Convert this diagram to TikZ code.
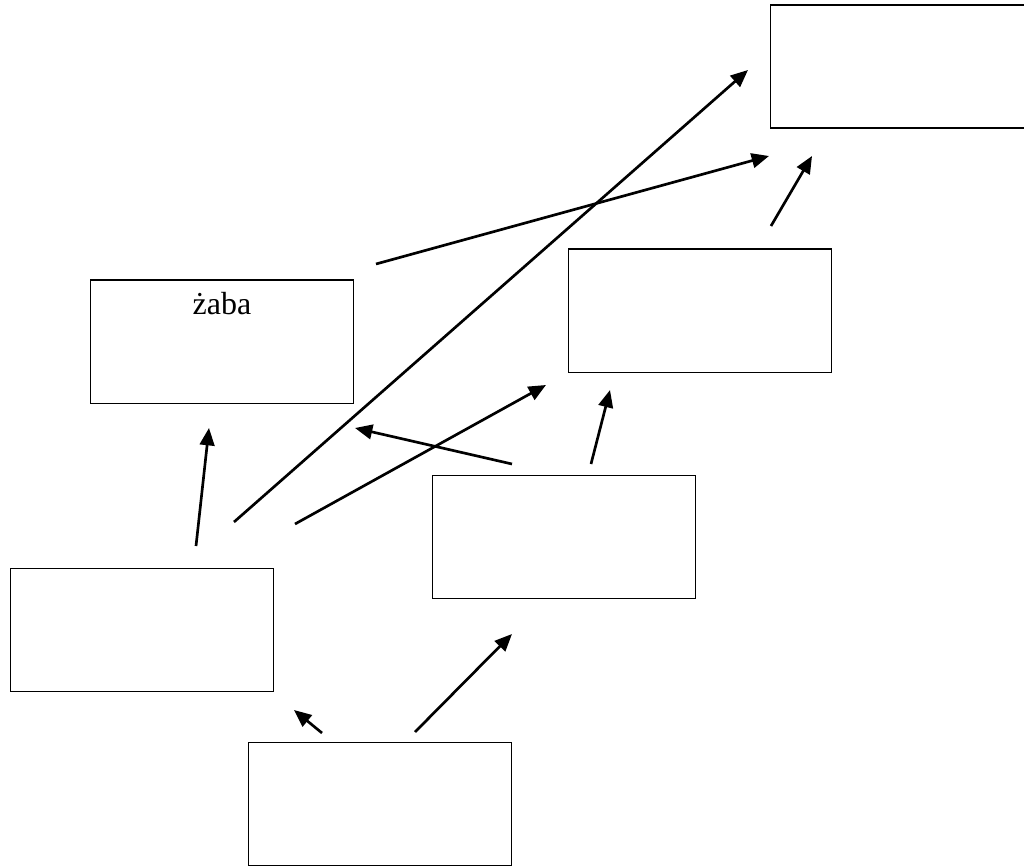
\documentclass[tikz,border=0pt]{standalone}
\usepackage{fontspec}
\setmainfont{Liberation Serif}
\usetikzlibrary{arrows.meta}
\begin{document}
\begin{tikzpicture}[x=0.75pt,y=-0.75pt,
  box/.style={draw,line width=1.3pt,minimum width=197.25pt,minimum height=92.25pt,inner sep=0pt,anchor=north west},
  arr/.style={line width=2pt,-{Triangle[length=13pt,width=11pt]}}]
\useasboundingbox (0,0) rectangle (1024,866);
\node[box] (A) at (769.5,4.5) {};
\node[box] (B) at (89.5,279.5) {};
\node[box] (C) at (567.5,248.5) {};
\node[box] (D) at (431.5,474.5) {};
\node[box] (E) at (9.5,567.5) {};
\node[box] (F) at (247.5,741.5) {};
\node[font=\fontsize{24}{28}\selectfont,anchor=base,inner sep=0pt] (t) at (222,315) {żaba};
\coordinate (f1) at (322,733); \coordinate (f1e) at (294,710);
\coordinate (f2) at (415,732); \coordinate (f2e) at (512,634);
\coordinate (e1) at (196,546); \coordinate (e1e) at (209,428);
\coordinate (e2) at (234,522); \coordinate (e2e) at (748,70);
\coordinate (e3) at (295,524); \coordinate (e3e) at (546,385);
\coordinate (d1) at (512,464); \coordinate (d1e) at (355,428);
\coordinate (d2) at (591,464); \coordinate (d2e) at (610,390);
\coordinate (c1) at (771,226); \coordinate (c1e) at (812,156);
\coordinate (b1) at (376,264); \coordinate (b1e) at (769,156);
\foreach \s/\e in {f1/f1e,f2/f2e,e1/e1e,e2/e2e,e3/e3e,d1/d1e,d2/d2e,c1/c1e,b1/b1e}
  \draw[arr] (\s) -- (\e);
\end{tikzpicture}
\end{document}
